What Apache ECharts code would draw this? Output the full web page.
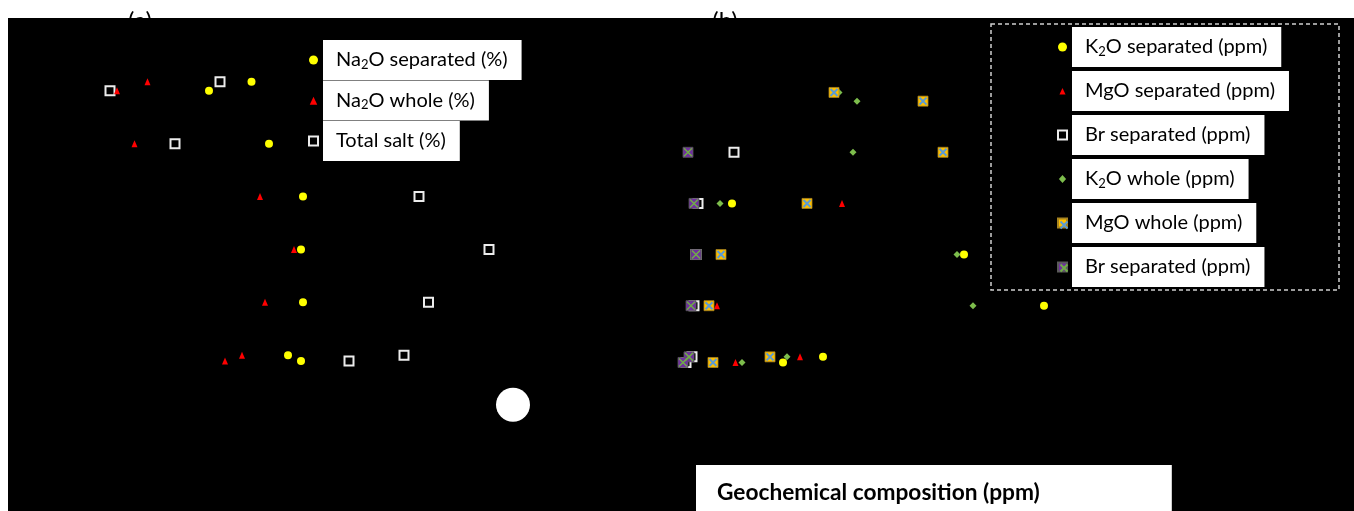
<!DOCTYPE html>
<html>
<head>
<meta charset="utf-8">
<title>Na2O / K2O / MgO / Br</title>
<style>
  html, body { margin: 0; padding: 0; background: #fff; }
  #page { width: 1354px; height: 511px; }
</style>
</head>
<body>
<div id="page"></div>
<script src="https://cdn.jsdelivr.net/npm/echarts@6/dist/echarts.min.js"></script>
<script>
// (a) sample rows (position on the hidden depth axis) and values in %
var rowsA = [0.83, 1, 2, 3, 4, 5, 6, 6.11];
var na2oSeparated = [15.15, 10.9, 16.9, 20.3, 20.1, 20.3, 18.8, 20.1];
var na2oWhole = [4.75, 1.7, 3.45, 16.0, 19.4, 16.5, 14.2, 12.5];
var totalSalt = [12.0, 1.0, 7.5, 31.9, 38.9, 32.85, 30.4, 24.9];
var spot = [41.3, 6.94];

// (b) sample rows and values in ppm (null = not plotted)
var rowsB = [0.83, 1, 2, 3, 4, 5, 6, 6.11];
var k2oSeparated = [null, null, null, 620, 2940, 3740, 1530, 1130];
var mgoSeparated = [null, null, null, 1720, null, 470, 1300, 655];
var brSeparated = [null, null, 640, 280, 260, 240, 220, 160];
var k2oWhole = [1690, 1870, 1830, 500, 2870, 3030, 1170, 720];
var mgoWhole = [1640, 2530, 2730, 1370, 510, 390, 1000, 430];
var brSeparated2 = [null, null, 180, 240, 260, 210, 190, 130];

var FONT = 'Lato, "Noto Sans", sans-serif';
var CROSS = 'path://M0,0L10,10M10,0L0,10';
// legend icons, padded inside a 10x10 box so they draw smaller than the item size
var ICON_TRI_A = 'path://M0,0M10,10M5,0.8L9.2,9.6L0.8,9.6Z';
var ICON_TRI_B = 'path://M0,0M10,10M5,1.8L8.4,9L1.6,9Z';
var ICON_DIAMOND = 'path://M0,0M10,10M5,0.6L9,5L5,9.4L1,5Z';

function pairs(vals, rows) {
    var out = [];
    for (var i = 0; i < vals.length; i++) {
        if (vals[i] != null) out.push([vals[i], rows[i]]);
    }
    return out;
}

// Na2O -> Na{s|2}O
function subName(name) {
    var m = name.trim().match(/^(Na|K)2(.*)$/);
    if (m) return '{n|' + m[1] + '}{s|2}{n|' + m[2] + '}';
    return '{n|' + name.trim() + '}';
}

var legendText = {
    color: '#000',
    backgroundColor: '#fff',
    padding: [9, 14, 9, 13],
    rich: {
        n: { fontFamily: FONT, fontSize: 20, lineHeight: 22, color: '#000' },
        s: { fontFamily: FONT, fontSize: 13, lineHeight: 14, verticalAlign: 'bottom', color: '#000' }
    }
};

function scatter(name, grid, symbol, size, vals, rows, style, extra) {
    style.opacity = 1;
    var s = {
        name: name, type: 'scatter', xAxisIndex: grid, yAxisIndex: grid,
        symbol: symbol, symbolSize: size, data: pairs(vals, rows),
        itemStyle: style
    };
    if (extra) s.silent = true;
    return s;
}

var myChart = echarts.init(document.getElementById('page'));

var option = {
    animation: false,
    backgroundColor: '#fff',
    title: {
        text: 'Geochemical composition (ppm)',
        left: 696,
        top: 465,
        backgroundColor: '#fff',
        padding: [16, 132, 30, 21],
        textStyle: { fontFamily: FONT, fontSize: 22.7, fontWeight: 'bold', color: '#000' }
    },
    graphic: [
        { type: 'text', x: 140, y: 9, z: 0, style: { text: '(a)', font: '24px ' + FONT, fill: '#000', align: 'center', verticalAlign: 'top' } },
        { type: 'text', x: 725, y: 9, z: 0, style: { text: '(b)', font: '24px ' + FONT, fill: '#000', align: 'center', verticalAlign: 'top' } },
        { type: 'rect', z: 1, shape: { x: 8, y: 18, width: 1346, height: 493 }, style: { fill: '#000' } },
        { type: 'rect', z: 1, shape: { x: 991, y: 24, width: 348, height: 266 },
          style: { fill: 'none', stroke: '#d0d0d0', lineWidth: 1.5, lineDash: [4, 3] } }
    ],
    legend: [
        {
            orient: 'vertical',
            left: 308,
            top: 40,
            padding: 0,
            itemGap: 0.5,
            itemWidth: 9,
            itemHeight: 9,
            data: ['Na2O separated (%)', { name: 'Na2O whole (%)', icon: ICON_TRI_A }, 'Total salt (%)'],
            formatter: subName,
            textStyle: legendText
        },
        {
            orient: 'vertical',
            left: 1057,
            top: 27,
            padding: 0,
            itemGap: 4,
            itemWidth: 9,
            itemHeight: 9,
            data: ['K2O separated (ppm)', { name: 'MgO separated (ppm)', icon: ICON_TRI_B },
                   'Br separated (ppm)', { name: 'K2O whole (ppm)', icon: ICON_DIAMOND },
                   'MgO whole (ppm)', 'Br separated (ppm) '],
            formatter: subName,
            textStyle: legendText
        },
        {
            // crosses drawn over the two filled square icons
            orient: 'vertical',
            left: 1058,
            top: 219,
            padding: 0,
            itemGap: 31,
            itemWidth: 7,
            itemHeight: 7,
            selectedMode: false,
            data: ['MgO whole x', 'Br separated x'],
            formatter: function () { return ''; },
            textStyle: { fontSize: 1, lineHeight: 1 }
        }
    ],
    grid: [
        { left: 100, top: 38, width: 500, height: 370 },
        { left: 670, top: 50, width: 500, height: 358 }
    ],
    xAxis: [
        { type: 'value', gridIndex: 0, min: 0, max: 50, show: false },
        { type: 'value', gridIndex: 1, min: 0, max: 5000, show: false }
    ],
    yAxis: [
        { type: 'value', gridIndex: 0, min: 0, max: 7, inverse: true, show: false },
        { type: 'value', gridIndex: 1, min: 0, max: 7, inverse: true, show: false }
    ],
    series: [
        // (a)
        scatter('Total salt (%)', 0, 'rect', 9, totalSalt, rowsA,
            { color: '#000', borderColor: '#ececec', borderWidth: 2 }),
        scatter('Na2O whole (%)', 0, 'triangle', [6, 7], na2oWhole, rowsA, { color: '#ff0000' }),
        scatter('Na2O separated (%)', 0, 'circle', 8, na2oSeparated, rowsA, { color: '#ffff00' }),
        scatter('spot', 0, 'circle', 34, [spot[0]], [spot[1]], { color: '#fff' }, true),
        // (b)
        scatter('K2O separated (ppm)', 1, 'circle', 8, k2oSeparated, rowsB, { color: '#ffff00' }),
        scatter('MgO separated (ppm)', 1, 'triangle', [6, 7], mgoSeparated, rowsB, { color: '#ff0000' }),
        scatter('Br separated (ppm)', 1, 'rect', 9, brSeparated, rowsB,
            { color: '#000', borderColor: '#ececec', borderWidth: 2 }),
        scatter('K2O whole (ppm)', 1, 'diamond', 7, k2oWhole, rowsB, { color: '#7dbd4c' }),
        scatter('MgO whole (ppm)', 1, 'rect', 10, mgoWhole, rowsB,
            { color: '#ffc000', borderColor: '#a88420', borderWidth: 0.8 }),
        scatter('MgO whole x', 1, CROSS, 7, mgoWhole, rowsB,
            { color: 'none', borderColor: '#5b9bd5', borderWidth: 2 }, true),
        scatter('Br separated (ppm) ', 1, 'rect', 10, brSeparated2, rowsB,
            { color: '#7030a0', borderColor: '#5a5a5a', borderWidth: 0.8 }),
        scatter('Br separated x', 1, CROSS, 8, brSeparated2, rowsB,
            { color: 'none', borderColor: '#70ad47', borderWidth: 1.5 }, true)
    ]
};

myChart.setOption(option);
</script>
</body>
</html>
